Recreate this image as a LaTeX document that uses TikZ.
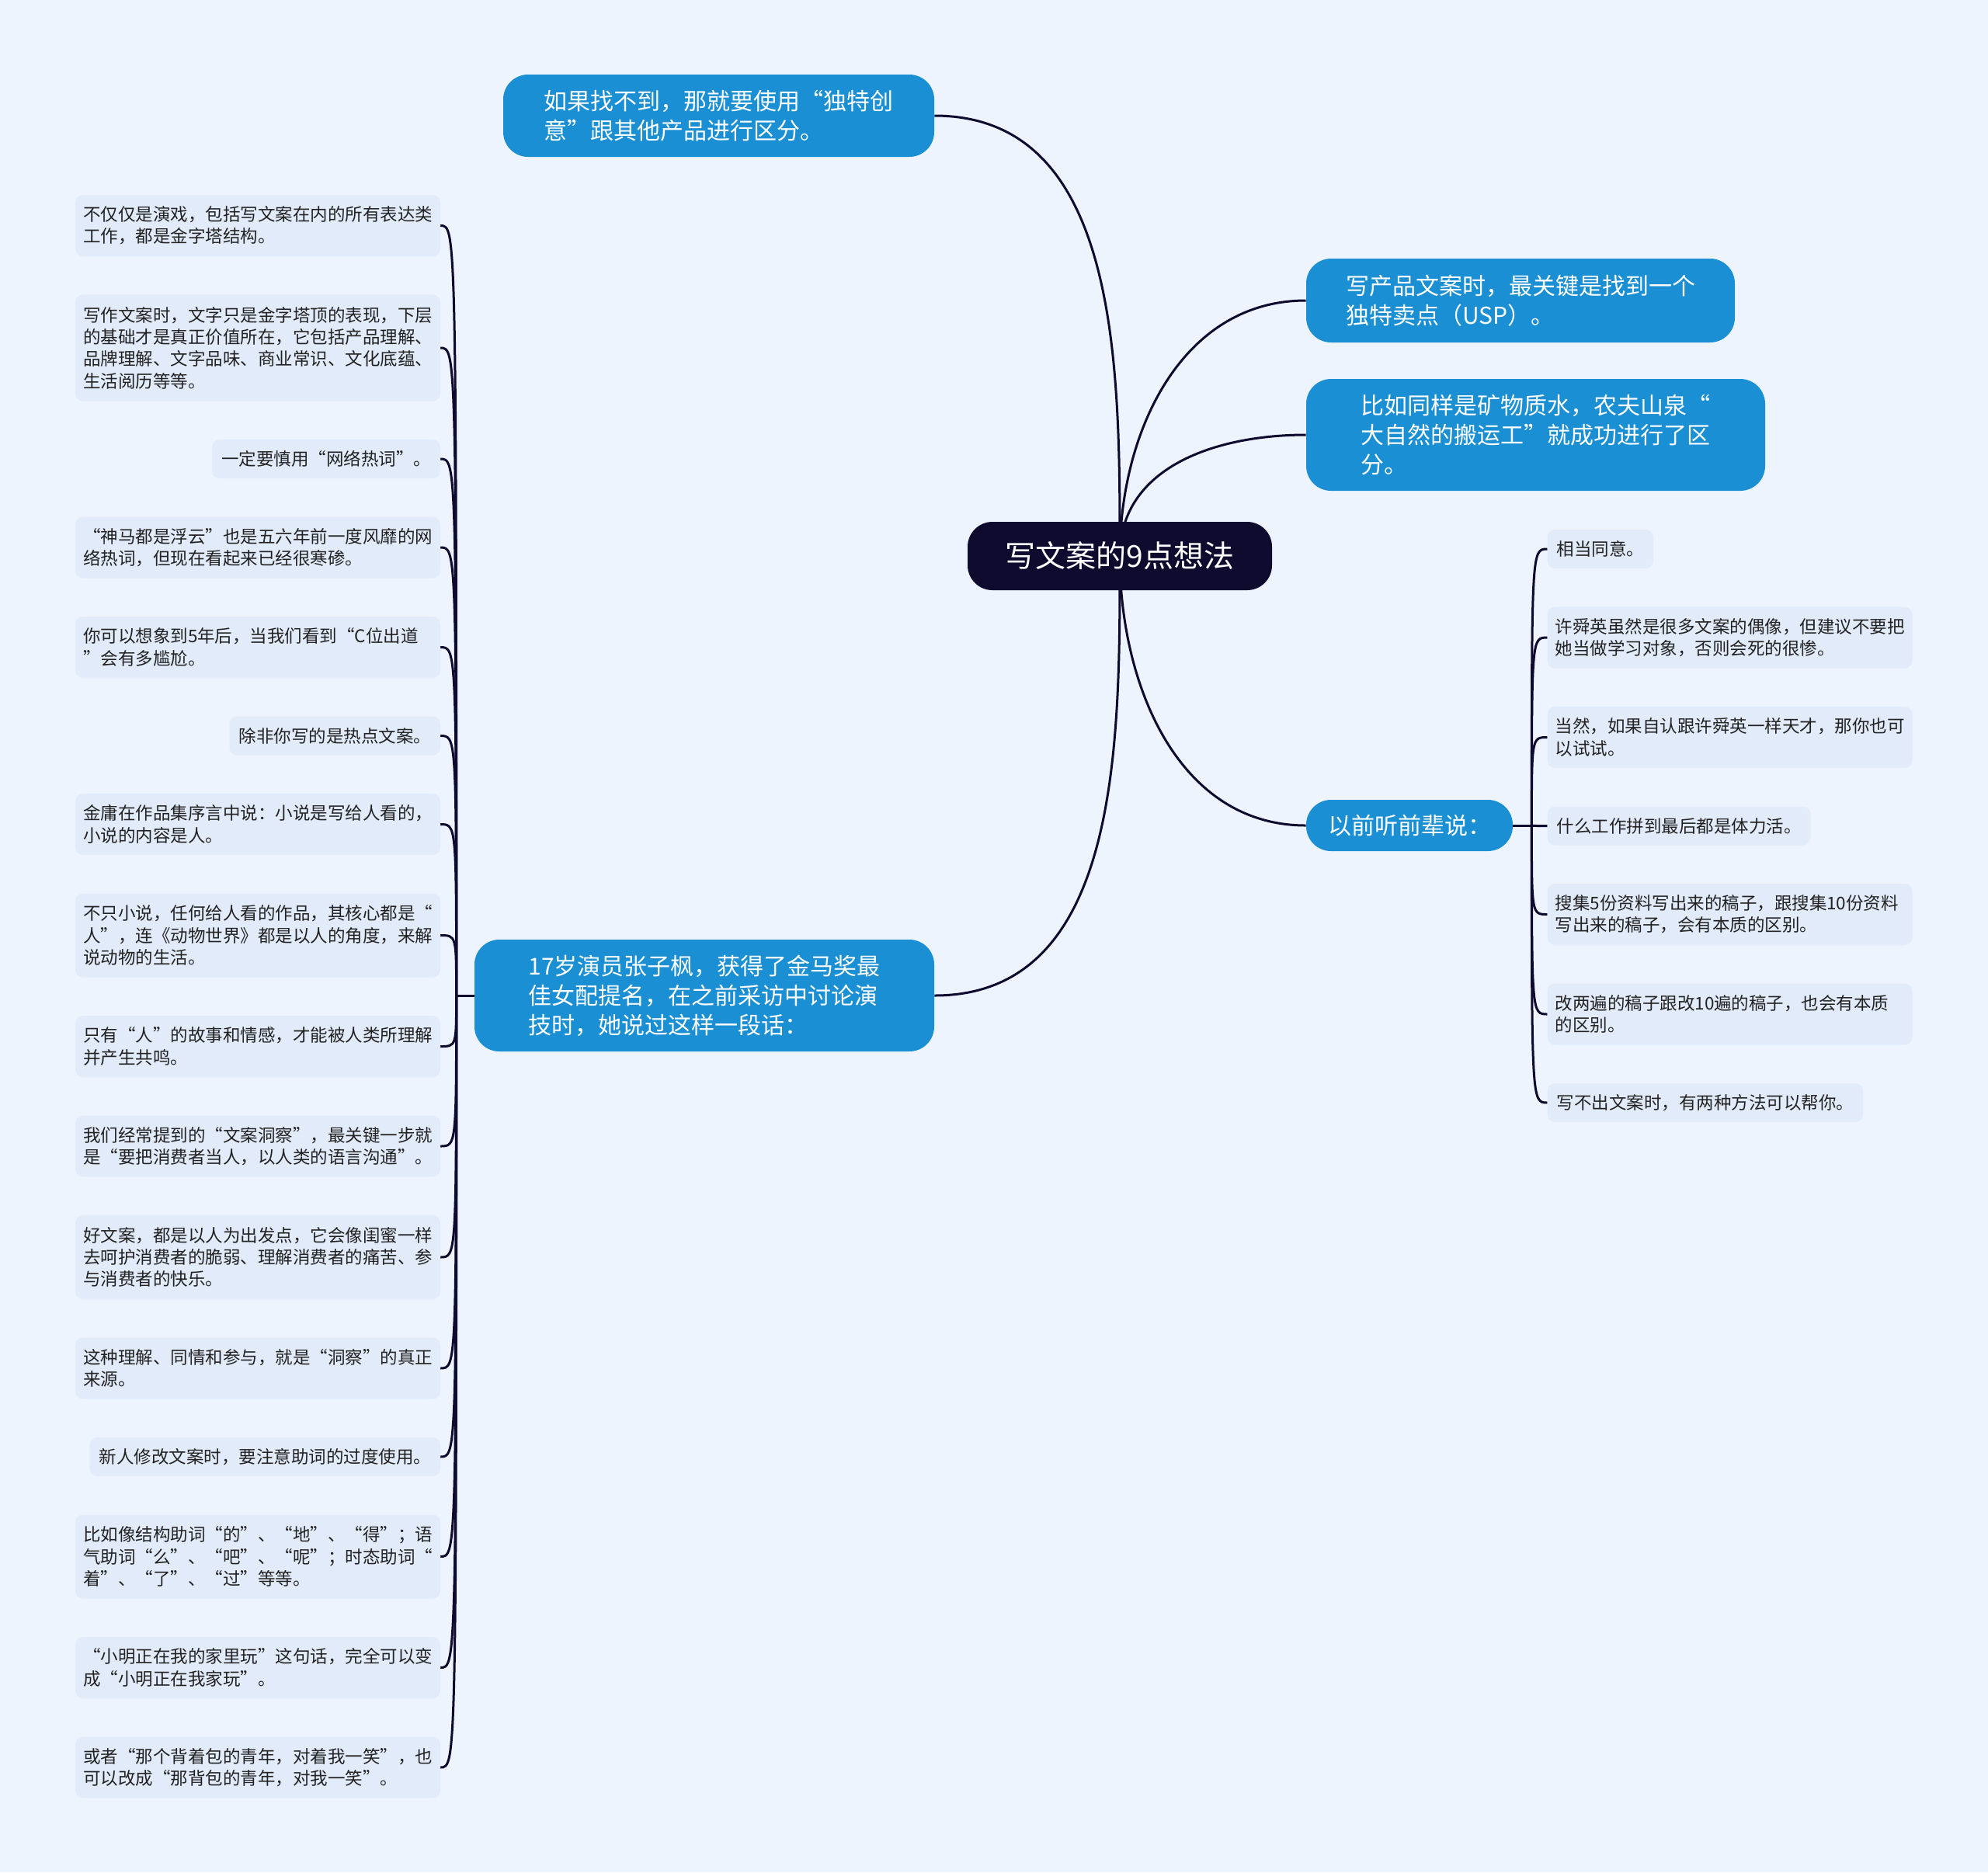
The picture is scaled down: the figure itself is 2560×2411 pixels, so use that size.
\documentclass[tikz,border=0pt]{standalone}
\usepackage{fontspec}
\usepackage{tikz}
\usetikzlibrary{positioning,backgrounds}
\newfontfamily\cjk{Noto Sans CJK SC}
\newfontfamily\cjkwide[CharacterWidth=Full]{Noto Sans CJK SC}
\newcommand\qL{{\cjkwide “}}
\newcommand\qR{{\cjkwide ”}}
\definecolor{paper}{HTML}{EEF4FE}
\definecolor{leaffill}{HTML}{E2EBFA}
\definecolor{topicblue}{HTML}{1A8FD3}
\definecolor{ink}{HTML}{0E0B2F}
\definecolor{leaftext}{HTML}{222222}

\begin{document}
\begin{tikzpicture}[x=0.5pt,y=-0.5pt,node distance=24.75pt]
  \tikzset{
    root/.style={fill=ink,text=white,rounded corners=16pt,minimum width=196pt,minimum height=44pt,font={\cjk\fontsize{19.5pt}{24pt}\selectfont}},
    topic/.style={fill=topicblue,text=white,rounded corners=16pt,align=left,inner xsep=0pt,font={\cjk\fontsize{15pt}{19pt}\selectfont}},
    leaf/.style={fill=leaffill,text=leaftext,rounded corners=5pt,outer sep=0pt,inner xsep=6pt,inner ysep=3pt,font={\cjk\fontsize{11.25pt}{14.15pt}\selectfont}},
    note/.style={leaf,inner xsep=5pt,text width=225pt,align=left},
    rows1/.style={minimum height=25pt},
    rows2/.style={minimum height=39.5pt},
    rows3/.style={minimum height=54pt},
    rows4/.style={minimum height=68.5pt},
    link/.style={draw=ink,line width=1.5pt}
  }
  \useasboundingbox (0,0) rectangle (2560,2411);
  \node[root] (root) at (1442,716) {写文案的9点想法};
  \node[topic,minimum width=277.5pt,minimum height=53pt] (unique) at (925.5,149) {如果找不到，那就要使用\qL 独特创\\意\qR 跟其他产品进行区分。};
  \node[topic,minimum width=276pt,minimum height=54pt] (usp) at (1958,387) {写产品文案时，最关键是找到一个\\独特卖点（USP）。};
  \node[topic,minimum width=295.5pt,minimum height=72pt] (water) at (1977.5,560) {比如同样是矿物质水，农夫山泉\qL\\大自然的搬运工\qR 就成功进行了区\\分。};
  \node[topic,minimum width=133pt,minimum height=33pt] (elders) at (1815,1063) {以前听前辈说：};
  \node[topic,minimum width=296pt,minimum height=72pt] (actor) at (907,1282) {17岁演员张子枫，获得了金马奖最\\佳女配提名，在之前采访中讨论演\\技时，她说过这样一段话：};

  \node[note,rows2,anchor=north east] (pyramid) at (567,251) {不仅仅是演戏，包括写文案在内的所有表达类\\工作，都是金字塔结构。};
  \node[note,rows4,below=of pyramid.south east,anchor=north east] (base) {写作文案时，文字只是金字塔顶的表现，下层\\的基础才是真正价值所在，它包括产品理解、\\品牌理解、文字品味、商业常识、文化底蕴、\\生活阅历等等。};
  \node[leaf,rows1,below=of base.south east,anchor=north east] (buzz) {一定要慎用\qL 网络热词\qR 。};
  \node[note,rows2,below=of buzz.south east,anchor=north east] (cloud) {\qL 神马都是浮云\qR 也是五六年前一度风靡的网\\络热词，但现在看起来已经很寒碜。};
  \node[note,rows2,below=of cloud.south east,anchor=north east] (debut) {你可以想象到5年后，当我们看到\qL C位出道\\\qR 会有多尴尬。};
  \node[leaf,rows1,below=of debut.south east,anchor=north east] (hot) {除非你写的是热点文案。};
  \node[note,rows2,below=of hot.south east,anchor=north east] (jinyong) {金庸在作品集序言中说：小说是写给人看的，\\小说的内容是人。};
  \node[note,rows3,below=of jinyong.south east,anchor=north east] (human) {不只小说，任何给人看的作品，其核心都是\qL\\人\qR ，连《动物世界》都是以人的角度，来解\\说动物的生活。};
  \node[note,rows2,below=of human.south east,anchor=north east] (story) {只有\qL 人\qR 的故事和情感，才能被人类所理解\\并产生共鸣。};
  \node[note,rows2,below=of story.south east,anchor=north east] (insight) {我们经常提到的\qL 文案洞察\qR ，最关键一步就\\是\qL 要把消费者当人，以人类的语言沟通\qR 。};
  \node[note,rows3,below=of insight.south east,anchor=north east] (good) {好文案，都是以人为出发点，它会像闺蜜一样\\去呵护消费者的脆弱、理解消费者的痛苦、参\\与消费者的快乐。};
  \node[note,rows2,below=of good.south east,anchor=north east] (source) {这种理解、同情和参与，就是\qL 洞察\qR 的真正\\来源。};
  \node[leaf,rows1,below=of source.south east,anchor=north east] (particle) {新人修改文案时，要注意助词的过度使用。};
  \node[note,rows3,below=of particle.south east,anchor=north east] (example) {比如像结构助词\qL 的\qR 、\qL 地\qR 、\qL 得\qR ；语\\气助词\qL 么\qR 、\qL 吧\qR 、\qL 呢\qR ；时态助词\qL\\着\qR 、\qL 了\qR 、\qL 过\qR 等等。};
  \node[note,rows2,below=of example.south east,anchor=north east] (xiaoming) {\qL 小明正在我的家里玩\qR 这句话，完全可以变\\成\qL 小明正在我家玩\qR 。};
  \node[note,rows2,below=of xiaoming.south east,anchor=north east] (smile) {或者\qL 那个背着包的青年，对着我一笑\qR ，也\\可以改成\qL 那背包的青年，对我一笑\qR 。};

  \node[leaf,rows1,anchor=north west] (agree) at (1992.5,682) {相当同意。};
  \node[note,rows2,below=of agree.south west,anchor=north west] (idol) {许舜英虽然是很多文案的偶像，但建议不要把\\她当做学习对象，否则会死的很惨。};
  \node[note,rows2,below=of idol.south west,anchor=north west] (genius) {当然，如果自认跟许舜英一样天才，那你也可\\以试试。};
  \node[leaf,rows1,below=of genius.south west,anchor=north west] (labor) {什么工作拼到最后都是体力活。};
  \node[note,rows2,below=of labor.south west,anchor=north west] (material) {搜集5份资料写出来的稿子，跟搜集10份资料\\写出来的稿子，会有本质的区别。};
  \node[note,rows2,below=of material.south west,anchor=north west] (revise) {改两遍的稿子跟改10遍的稿子，也会有本质\\的区别。};
  \node[leaf,rows1,below=of revise.south west,anchor=north west] (stuck) {写不出文案时，有两种方法可以帮你。};

  \coordinate[left=11.5pt of actor] (lj);
  \coordinate[right=12pt of elders] (rj);

  \begin{scope}[on background layer]
    \fill[paper] (0,0) rectangle (2560,2411);
    \draw[link] (root.center) .. controls +(0,-240) and +(240,0) .. (unique.east);
    \draw[link] (root.center) .. controls +(0,-160) and +(-160,0) .. (usp.west);
    \draw[link] (root.center) .. controls +(0,-115) and +(-115,0) .. (water.west);
    \draw[link] (root.center) .. controls +(0,165) and +(-165,0) .. (elders.west);
    \draw[link] (root.center) .. controls +(0,240) and +(240,0) .. (actor.east);
    \draw[link] (actor.west) -- (lj);
    \draw[link] (lj) .. controls (lj |- pyramid.east) .. (pyramid.east);
    \draw[link] (lj) .. controls (lj |- base.east) .. (base.east);
    \draw[link] (lj) .. controls (lj |- buzz.east) .. (buzz.east);
    \draw[link] (lj) .. controls (lj |- cloud.east) .. (cloud.east);
    \draw[link] (lj) .. controls (lj |- debut.east) .. (debut.east);
    \draw[link] (lj) .. controls (lj |- hot.east) .. (hot.east);
    \draw[link] (lj) .. controls (lj |- jinyong.east) .. (jinyong.east);
    \draw[link] (lj) .. controls (lj |- human.east) .. (human.east);
    \draw[link] (lj) .. controls (lj |- story.east) .. (story.east);
    \draw[link] (lj) .. controls (lj |- insight.east) .. (insight.east);
    \draw[link] (lj) .. controls (lj |- good.east) .. (good.east);
    \draw[link] (lj) .. controls (lj |- source.east) .. (source.east);
    \draw[link] (lj) .. controls (lj |- particle.east) .. (particle.east);
    \draw[link] (lj) .. controls (lj |- example.east) .. (example.east);
    \draw[link] (lj) .. controls (lj |- xiaoming.east) .. (xiaoming.east);
    \draw[link] (lj) .. controls (lj |- smile.east) .. (smile.east);
    \draw[link] (elders.east) -- (rj);
    \draw[link] (rj) .. controls (rj |- agree.west) .. (agree.west);
    \draw[link] (rj) .. controls (rj |- idol.west) .. (idol.west);
    \draw[link] (rj) .. controls (rj |- genius.west) .. (genius.west);
    \draw[link] (rj) .. controls (rj |- labor.west) .. (labor.west);
    \draw[link] (rj) .. controls (rj |- material.west) .. (material.west);
    \draw[link] (rj) .. controls (rj |- revise.west) .. (revise.west);
    \draw[link] (rj) .. controls (rj |- stuck.west) .. (stuck.west);
  \end{scope}
\end{tikzpicture}
\end{document}
